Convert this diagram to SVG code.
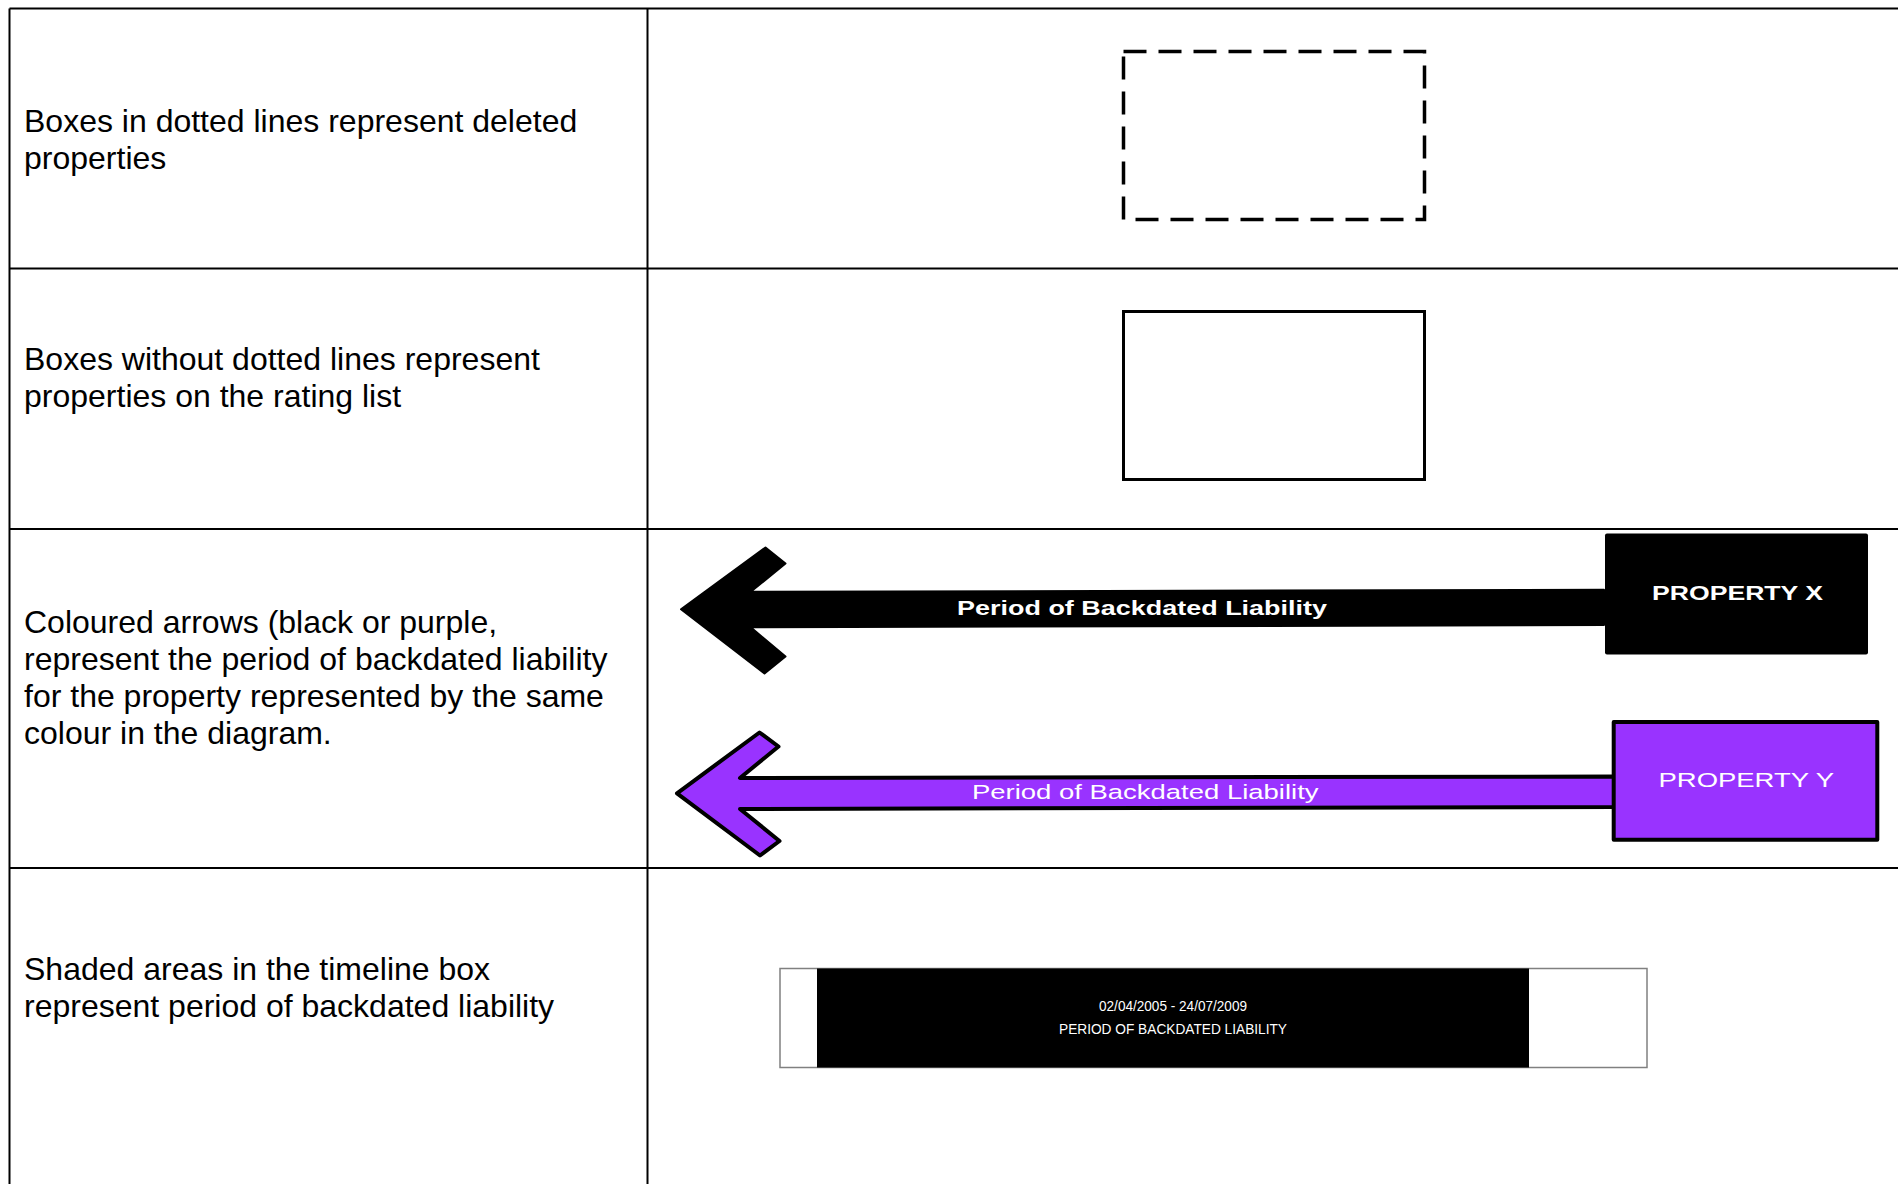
<svg xmlns="http://www.w3.org/2000/svg" width="1898" height="1184" viewBox="0 0 1898 1184">
  <style>
    .grid { stroke: #000; stroke-width: 2; fill: none; }
    .desc { font-family: "Liberation Sans", Arial, sans-serif; font-size: 32px; fill: #000; }
    .lbl-b { font-family: "Liberation Sans", Arial, sans-serif; font-weight: bold; font-size: 21px; fill: #fff; }
    .lbl-p { font-family: "Liberation Sans", Arial, sans-serif; font-size: 20.5px; fill: #fff; }
    .tl { font-family: "Liberation Sans", Arial, sans-serif; font-size: 15px; fill: #fff; }
  </style>
  <rect x="0" y="0" width="1898" height="1184" fill="#fff"/>

  <g id="table">
    <line class="grid" x1="9.5" y1="8.5" x2="1898" y2="8.5"/>
    <line class="grid" x1="9.5" y1="268.5" x2="1898" y2="268.5"/>
    <line class="grid" x1="9.5" y1="529" x2="1898" y2="529"/>
    <line class="grid" x1="9.5" y1="868" x2="1898" y2="868"/>
    <line class="grid" x1="9.5" y1="8.5" x2="9.5" y2="1184"/>
    <line class="grid" x1="647.5" y1="8.5" x2="647.5" y2="1184"/>
  </g>

  <g id="row1-text">
    <text class="desc" x="24" y="132">Boxes in dotted lines represent deleted</text>
    <text class="desc" x="24" y="169">properties</text>
  </g>
  <g id="row2-text">
    <text class="desc" x="24" y="370">Boxes without dotted lines represent</text>
    <text class="desc" x="24" y="407">properties on the rating list</text>
  </g>
  <g id="row3-text">
    <text class="desc" x="24" y="633">Coloured arrows (black or purple,</text>
    <text class="desc" x="24" y="670">represent the period of backdated liability</text>
    <text class="desc" x="24" y="707">for the property represented by the same</text>
    <text class="desc" x="24" y="744">colour in the diagram.</text>
  </g>
  <g id="row4-text">
    <text class="desc" x="24" y="980">Shaded areas in the timeline box</text>
    <text class="desc" x="24" y="1017">represent period of backdated liability</text>
  </g>

  <g id="deleted-box">
    <rect x="1123.5" y="51.5" width="301" height="168" fill="none" stroke="#000" stroke-width="3.5" stroke-dasharray="23 12"/>
  </g>

  <g id="rating-box">
    <rect x="1123.5" y="311.5" width="301" height="168" fill="none" stroke="#000" stroke-width="3"/>
  </g>

  <g id="connectors">
    <g id="arrow-x">
      <polygon points="681,609.3 765.5,547.5 785.5,563.5 750.7,591.8 1604,589.8 1604,625 750.7,627.3 785.5,656.5 764.5,673.5" fill="#000" stroke="#000" stroke-width="2" stroke-linejoin="round"/>
      <text class="lbl-b" x="957" y="615" textLength="370" lengthAdjust="spacingAndGlyphs">Period of Backdated Liability</text>
    </g>
    <g id="arrow-y">
      <polygon points="677,793.3 759.5,732.5 778.5,746.5 740,778 1614,776.5 1614,807 740,809 779.5,841 760,855.5" fill="#9933ff" stroke="#000" stroke-width="4" stroke-linejoin="round"/>
      <text class="lbl-p" x="972" y="799" textLength="346.5" lengthAdjust="spacingAndGlyphs">Period of Backdated Liability</text>
    </g>
  </g>

  <g id="property-x">
    <rect x="1605" y="533.5" width="263" height="121" rx="2" fill="#000"/>
    <text class="lbl-b" x="1652" y="600" textLength="171" lengthAdjust="spacingAndGlyphs">PROPERTY X</text>
  </g>

  <g id="property-y">
    <rect x="1613.7" y="722" width="263.6" height="117.7" fill="#9933ff" stroke="#000" stroke-width="4" stroke-linejoin="round"/>
    <text class="lbl-p" x="1658.5" y="786.7" style="font-size:21px" textLength="175.5" lengthAdjust="spacingAndGlyphs">PROPERTY Y</text>
  </g>

  <g id="timeline">
    <rect x="780" y="968.5" width="867" height="99" fill="#fff" stroke="#808080" stroke-width="1.5"/>
    <rect x="817" y="968.5" width="712" height="99" fill="#000"/>
    <text class="tl" x="1099" y="1011" textLength="148" lengthAdjust="spacingAndGlyphs">02/04/2005 - 24/07/2009</text>
    <text class="tl" x="1059" y="1034" textLength="228" lengthAdjust="spacingAndGlyphs">PERIOD OF BACKDATED LIABILITY</text>
  </g>
</svg>
